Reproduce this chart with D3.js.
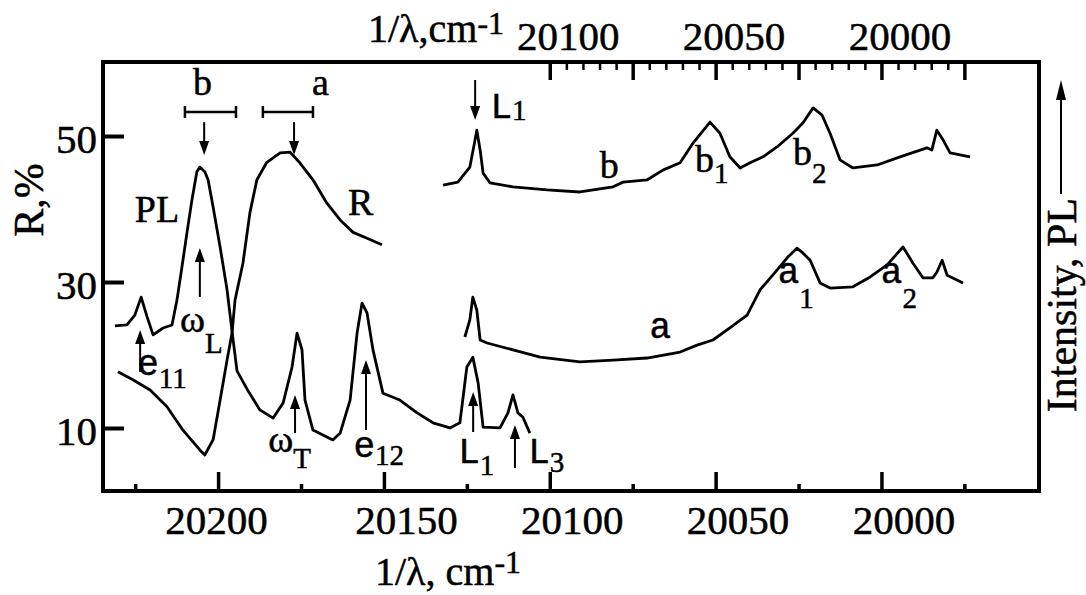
<!DOCTYPE html>
<html>
<head>
<meta charset="utf-8">
<script src="https://cdn.jsdelivr.net/npm/d3@7"></script>
<style>
  body { margin: 0; background: #fff; }
  svg { display: block; background: #fff; }
  text { fill: #000; stroke: #000; stroke-width: 0.5px; }
</style>
</head>
<body>
<svg id="chart" width="1086" height="595"></svg>
<script>
// ---- data: [wavenumber cm-1, value] ----
// reflectance R, % (left axis)
const reflectance = [
  [20230.2, 17.7], [20225.7, 16.6], [20220.5, 15.2], [20215.4, 12.9], [20210.6, 9.7],
  [20205.5, 7.0], [20204.0, 6.3], [20201.5, 8.4], [20199.4, 13.8], [20197.3, 19.3],
  [20195.8, 23.0], [20194.9, 27.5], [20192.5, 32.6], [20190.4, 39.5], [20188.3, 44.0],
  [20185.3, 46.4], [20181.3, 47.7], [20178.3, 47.8], [20175.3, 46.3], [20171.4, 44.0],
  [20167.2, 40.8], [20163.2, 38.5], [20159.3, 36.8], [20155.1, 36.0], [20150.6, 35.1]
];
// photoluminescence, arbitrary units (right axis)
const plMain = [
  [20231.1, 38.5], [20227.5, 38.7], [20225.1, 41.0], [20223.2, 45.2], [20221.4, 40.6],
  [20219.6, 36.4], [20216.6, 38.0], [20213.9, 38.7], [20212.4, 44.5], [20210.9, 52.2],
  [20209.4, 60.1], [20207.9, 67.8], [20206.4, 74.4], [20205.5, 75.5], [20204.0, 74.4],
  [20203.0, 72.5], [20201.5, 66.2], [20199.4, 56.9], [20197.3, 46.9], [20195.8, 37.3],
  [20194.3, 28.0], [20191.3, 23.8], [20187.4, 18.9], [20183.4, 17.0], [20180.4, 20.5],
  [20177.7, 28.9], [20176.2, 36.8], [20174.7, 32.9], [20173.8, 21.2], [20171.4, 14.2],
  [20165.4, 11.9], [20163.2, 13.5], [20160.2, 21.2], [20158.1, 36.8], [20156.6, 43.8],
  [20155.1, 41.5], [20153.3, 32.9], [20150.3, 22.8], [20145.2, 21.2], [20140.0, 18.2],
  [20135.2, 15.9], [20130.1, 14.7], [20127.1, 15.9], [20125.0, 28.9], [20123.2, 31.2],
  [20121.6, 25.2], [20120.1, 14.9], [20115.0, 14.7], [20112.6, 18.2], [20111.1, 22.4],
  [20109.6, 18.2], [20108.1, 17.2], [20106.0, 13.5]
];
const plA = [
  [20125.6, 35.9], [20124.1, 39.9], [20123.2, 45.2], [20122.0, 42.2], [20121.0, 35.2],
  [20118.9, 34.5], [20111.1, 32.9], [20102.9, 31.2], [20090.9, 30.1], [20080.9, 30.5],
  [20070.7, 31.0], [20060.7, 32.4], [20055.6, 34.0], [20050.8, 35.2], [20045.7, 38.0],
  [20040.5, 41.0], [20036.6, 46.9], [20031.5, 51.5], [20028.5, 54.3], [20025.5, 56.6],
  [20023.7, 55.5], [20021.5, 53.8], [20018.5, 48.5], [20015.5, 47.3], [20008.6, 47.6],
  [20003.4, 49.9], [19998.3, 52.7], [19993.5, 56.9], [19990.5, 53.1], [19987.5, 49.7],
  [19984.5, 49.7], [19983.3, 51.0], [19981.7, 53.8], [19980.2, 50.3], [19975.4, 48.5]
];
const plB = [
  [20132.2, 71.3], [20127.7, 72.0], [20124.1, 75.5], [20122.8, 80.7], [20122.0, 84.1],
  [20121.0, 79.5], [20120.1, 74.1], [20118.0, 71.8], [20111.1, 70.9], [20100.8, 70.2],
  [20090.9, 69.7], [20080.9, 70.9], [20077.9, 72.0], [20070.7, 72.5], [20065.9, 74.8],
  [20060.7, 76.5], [20056.8, 81.1], [20051.7, 86.0], [20048.7, 83.4], [20045.7, 77.9],
  [20042.6, 75.3], [20039.6, 76.5], [20035.7, 77.9], [20031.5, 80.2], [20026.7, 83.4],
  [20023.7, 85.8], [20020.6, 89.3], [20017.9, 87.6], [20015.5, 83.4], [20012.5, 77.2],
  [20008.6, 75.3], [20001.3, 76.0], [19994.4, 77.9], [19986.3, 80.0], [19984.8, 79.5],
  [19983.3, 84.1], [19981.4, 81.8], [19979.3, 78.8], [19973.3, 77.9]
];

// ticks
const bottomLabels = [20200, 20150, 20100, 20050, 20000];
const bottomMinor = [20225, 20175, 20125, 20075, 20025, 19975];
const topLabels = [20100, 20050, 20000];
const topMajor = [20100, 20075, 20050, 20025, 20000, 19975];
const rTicks = [10, 30, 50];

// arrows: [wavenumber, tail R, tip R]
const arrows = [
  [20204.2, 51.9, 47.4], [20177.1, 51.9, 47.4], [20205.5, 27.95, 34.66],
  [20223.5, 17.68, 23.43], [20176.8, 9.32, 14.52], [20155.4, 9.73, 19.32],
  [20123.1, 9.45, 14.93], [20110.5, 4.52, 10.41], [20122.5, 57.67, 52.19]
];
// brackets: [from, to, R]
const brackets = [[20210.0, 20194.6, 53.29], [20186.5, 20171.4, 53.29]];
// labels on the plot
const labels = [
  { t: "b", nu: 20207.6, r: 55.62, f: "serif" },
  { t: "a", nu: 20171.7, r: 55.62, f: "serif" },
  { t: "PL", nu: 20225.1, r: 38.22, f: "serif" },
  { t: "R", nu: 20160.8, r: 39.18, f: "serif" },
  { t: "ω", s: "L", nu: 20211.5, r: 23.15, sd: 21, f: "serif" },
  { t: "e", s: "11", nu: 20224.4, r: 17.26, sd: 13, f: "mono" },
  { t: "ω", s: "T", nu: 20184.9, r: 6.72, sd: 16, f: "serif" },
  { t: "e", s: "12", nu: 20159.2, r: 6.03, sd: 8, f: "mono" },
  { t: "L", s: "1", nu: 20127.6, r: 5.21, sd: 12, f: "mono" },
  { t: "L", s: "3", nu: 20106.5, r: 5.21, sd: 9, f: "mono" },
  { t: "L", s: "1", nu: 20117.9, r: 52.47, sd: 2, f: "mono" },
  { t: "b", nu: 20084.9, r: 44.25, f: "serif" },
  { t: "b", s: "1", nu: 20056.2, r: 45.07, sd: 11, f: "serif" },
  { t: "b", s: "2", nu: 20026.7, r: 46.03, sd: 18, f: "serif" },
  { t: "a", nu: 20069.9, r: 22.33, f: "mono" },
  { t: "a", s: "1", nu: 20031.3, r: 29.87, sd: 25, f: "mono" },
  { t: "a", s: "2", nu: 20000.2, r: 29.87, sd: 25, f: "mono" }
];

const SERIF = '"Liberation Serif", "Times New Roman", serif';
const MONO = '"Liberation Mono", "Courier New", monospace';

const W = 1086, H = 595;
const margin = { left: 103, right: 47, top: 62, bottom: 104 };
const svg = d3.select("#chart");

const x = d3.scaleLinear().domain([20234.7, 19952.5]).range([margin.left, W - margin.right]);
const yR = d3.scaleLinear().domain([1.37, 60.14]).range([H - margin.bottom, margin.top]);
const yI = d3.scaleLinear().domain([0, 100]).range([H - margin.bottom, margin.top]);
const bottomY = H - margin.bottom;

function styleAxis(g, width) {
  g.attr("font-family", SERIF).attr("font-size", 41);
  g.select(".domain").remove();
  g.selectAll(".tick line").attr("stroke", "#000").attr("stroke-width", width);
  g.selectAll(".tick text").attr("fill", "#000");
}

// bottom axis
svg.append("g").attr("transform", `translate(0,${bottomY})`)
  .call(d3.axisBottom(x).tickValues(bottomLabels).tickSize(-19).tickPadding(14).tickFormat(d3.format("d")))
  .call(g => styleAxis(g, 3.5))
  .call(g => g.selectAll(".tick text").attr("dx", d => d === 20200 ? -2 : 22));
svg.append("g").attr("transform", `translate(0,${bottomY})`)
  .call(d3.axisBottom(x).tickValues(bottomMinor).tickSize(-7).tickFormat(""))
  .call(g => styleAxis(g, 3.5));

// top axis
svg.append("g").attr("transform", `translate(0,${margin.top})`)
  .call(d3.axisTop(x).tickValues(topMajor).tickSize(-18).tickFormat(""))
  .call(g => styleAxis(g, 3.5));
svg.append("g").attr("transform", `translate(0,${margin.top})`)
  .call(d3.axisTop(x).tickValues(d3.range(0, 26).map(i => 20100 - 5 * i).filter(v => v % 25 !== 0)).tickSize(-8).tickFormat(""))
  .call(g => styleAxis(g, 2.5));
svg.append("g").attr("transform", `translate(0,${margin.top})`)
  .call(d3.axisTop(x).tickValues(topLabels).tickSize(0).tickPadding(12).tickFormat(d3.format("d")))
  .call(g => styleAxis(g, 0))
  .call(g => g.selectAll(".tick line").remove())
  .call(g => g.selectAll(".tick text").attr("dx", 18));

// left axis
svg.append("g").attr("transform", `translate(${margin.left},0)`)
  .call(d3.axisLeft(yR).tickValues(rTicks).tickSize(-21).tickPadding(6))
  .call(g => styleAxis(g, 4))
  .call(g => g.selectAll(".tick text").attr("dy", "0.4em"));

// frame
svg.append("rect")
  .attr("x", margin.left).attr("y", margin.top)
  .attr("width", W - margin.left - margin.right).attr("height", H - margin.top - margin.bottom)
  .attr("fill", "none").attr("stroke", "#000").attr("stroke-width", 4);

// curves
const lineR = d3.line().x(d => x(d[0])).y(d => yR(d[1]));
const lineI = d3.line().x(d => x(d[0])).y(d => yI(d[1]));
const curves = svg.append("g").attr("fill", "none").attr("stroke", "#000")
  .attr("stroke-width", 2.8).attr("stroke-linejoin", "round");
curves.append("path").attr("d", lineR(reflectance));
curves.append("path").attr("d", lineI(plMain));
curves.append("path").attr("d", lineI(plA));
curves.append("path").attr("d", lineI(plB));

// arrows and brackets
const ann = svg.append("g");
arrows.forEach(([nu, v0, v1]) => {
  const px = x(nu), y0 = yR(v0), y1 = yR(v1);
  const dir = Math.sign(y1 - y0), head = 14;
  ann.append("line").attr("x1", px).attr("x2", px).attr("y1", y0).attr("y2", y1 - dir * head)
    .attr("stroke", "#000").attr("stroke-width", 2);
  ann.append("path").attr("d", `M${px - 5},${y1 - dir * head}L${px + 5},${y1 - dir * head}L${px},${y1}Z`)
    .attr("fill", "#000");
});
brackets.forEach(([a, b, r]) => {
  const y = yR(r);
  ann.append("path")
    .attr("d", `M${x(a)},${y - 6}V${y + 6}M${x(a)},${y}H${x(b)}M${x(b)},${y - 6}V${y + 6}`)
    .attr("fill", "none").attr("stroke", "#000").attr("stroke-width", 2.5);
});

// labels
labels.forEach(d => {
  const t = ann.append("text").attr("x", x(d.nu)).attr("y", yR(d.r))
    .attr("font-family", d.f === "mono" ? MONO : SERIF)
    .attr("font-size", d.f === "mono" ? 36 : 38);
  t.append("tspan").text(d.t);
  if (d.s) t.append("tspan").attr("dy", d.sd).attr("font-family", SERIF).attr("font-size", 29).text(d.s);
});

// axis titles
const bt = svg.append("text").attr("x", 375).attr("y", 585)
  .attr("font-family", SERIF).attr("font-size", 40);
bt.append("tspan").text("1/λ, cm");
bt.append("tspan").attr("dy", -12).attr("font-size", 32).text("-1");

const tt = svg.append("text").attr("x", 368).attr("y", 42)
  .attr("font-family", SERIF).attr("font-size", 40);
tt.append("tspan").text("1/λ,cm");
tt.append("tspan").attr("dy", -8).attr("font-size", 32).text("-1");

svg.append("text").attr("transform", "translate(43,200) rotate(-90)")
  .attr("text-anchor", "middle").attr("font-family", SERIF).attr("font-size", 42)
  .text("R,%");

svg.append("text").attr("transform", "translate(1076,198) rotate(-90)")
  .attr("text-anchor", "end").attr("font-family", SERIF).attr("font-size", 42)
  .text("Intensity, PL");
svg.append("line").attr("x1", 1061).attr("x2", 1061).attr("y1", 194).attr("y2", 98)
  .attr("stroke", "#000").attr("stroke-width", 2);
svg.append("path").attr("d", "M1056,100L1066,100L1061,80Z").attr("fill", "#000");
</script>
</body>
</html>
